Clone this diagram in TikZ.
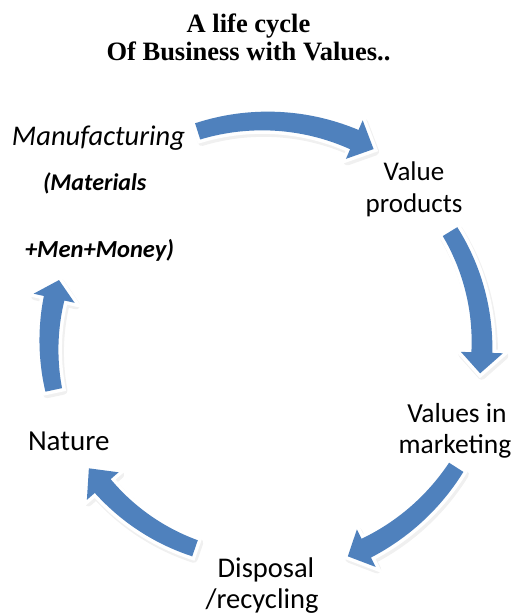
\documentclass[tikz,border=0pt]{standalone}
\usepackage{fontspec}
\setmainfont{Carlito}
\newfontfamily\titlefont{Liberation Serif}
\begin{document}
\begin{tikzpicture}[x=1pt,y=-1pt,
  cyclelabel/.style={inner sep=0pt, outer sep=0pt, align=center},
  arrowfill/.style={fill={rgb,255:red,79;green,129;blue,189}},
  arrowedge/.style={draw=white, fill=white, line width=7pt, line join=miter},
  arrowshade/.style={draw=black, fill=black, line width=8pt, line join=round, opacity=0.06}]

\useasboundingbox (0,0) rectangle (518,616);

% curved block arrow on a circle around the cycle centre:
% #1 radius, #2 tail angle, #3 angle where the head starts, #4 tip angle
\newcommand\cyclearrowpath[4]{%
  plot[domain=#2:#3, samples=40, variable=\a] ({\a}:{#1 + 8.5 + 2*(\a-#2)/(#3-#2)})
  -- (#3:#1+21) -- (#4:#1) -- (#3:#1-21)
  -- plot[domain=#3:#2, samples=40, variable=\a] ({\a}:{#1 - 8.5 - 2*(\a-#2)/(#3-#2)})
  -- cycle}
\newcommand\cyclearrow[5]{%
  \begin{scope}[shift={(265,345)}]
    \path[arrowshade, shift={(1.5,2.5)}] \cyclearrowpath{#1}{#2}{#3}{#4};
    \path[arrowedge] \cyclearrowpath{#1}{#2}{#3}{#4};
    \path[arrowfill] \cyclearrowpath{#1}{#2}{#3}{#4};
    \coordinate (#5) at (#4:#1);
  \end{scope}}

% title
\node[cyclelabel, anchor=base, font=\titlefont\bfseries\fontsize{26.5}{28}\selectfont]
  (title1) at (248.5,32) {A life cycle};
\node[cyclelabel, anchor=base, font=\titlefont\bfseries\fontsize{26.5}{28}\selectfont]
  (title2) at (248.5,60) {Of Business with Values..};

% the five arrows of the cycle
\cyclearrow{224}{252.5}{293.5}{299}{tip1}
\cyclearrow{217}{328.5}{362}{367.5}{tip2}
\cyclearrow{227}{32.6}{63.5}{68.6}{tip3}
\cyclearrow{215}{109}{139}{145}{tip4}
\cyclearrow{216}{168}{192.5}{197.5}{tip5}

% stages
\node[cyclelabel, anchor=base west, font=\itshape\fontsize{28.5}{33}\selectfont]
  (manuf) at (12,145) {Manufacturing};
\node[cyclelabel, anchor=base west, font=\bfseries\itshape\fontsize{24}{28}\selectfont]
  (materials) at (43,190) {(Materials};
\node[cyclelabel, anchor=base west, font=\bfseries\itshape\fontsize{24.5}{28}\selectfont]
  (menmoney) at (25,257) {+Men+Money)};
\node[cyclelabel, anchor=base, font=\fontsize{27}{32}\selectfont]
  (value1) at (414,180) {Value};
\node[cyclelabel, anchor=base, font=\fontsize{27}{32}\selectfont]
  (value2) at (414,212) {products};
\node[cyclelabel, anchor=base, font=\fontsize{27.5}{31}\selectfont]
  (market1) at (457,422) {Values in};
\node[cyclelabel, anchor=base, font=\fontsize{27.5}{31}\selectfont]
  (market2) at (455,453) {marketing};
\node[cyclelabel, anchor=base, font=\fontsize{28.5}{31}\selectfont]
  (disp1) at (266,577) {Disposal};
\node[cyclelabel, anchor=base, font=\fontsize{28.5}{31}\selectfont]
  (disp2) at (262,608) {/recycling};
\node[cyclelabel, anchor=base west, font=\fontsize{29}{33}\selectfont]
  (nature) at (28,450) {Nature};
\end{tikzpicture}
\end{document}
